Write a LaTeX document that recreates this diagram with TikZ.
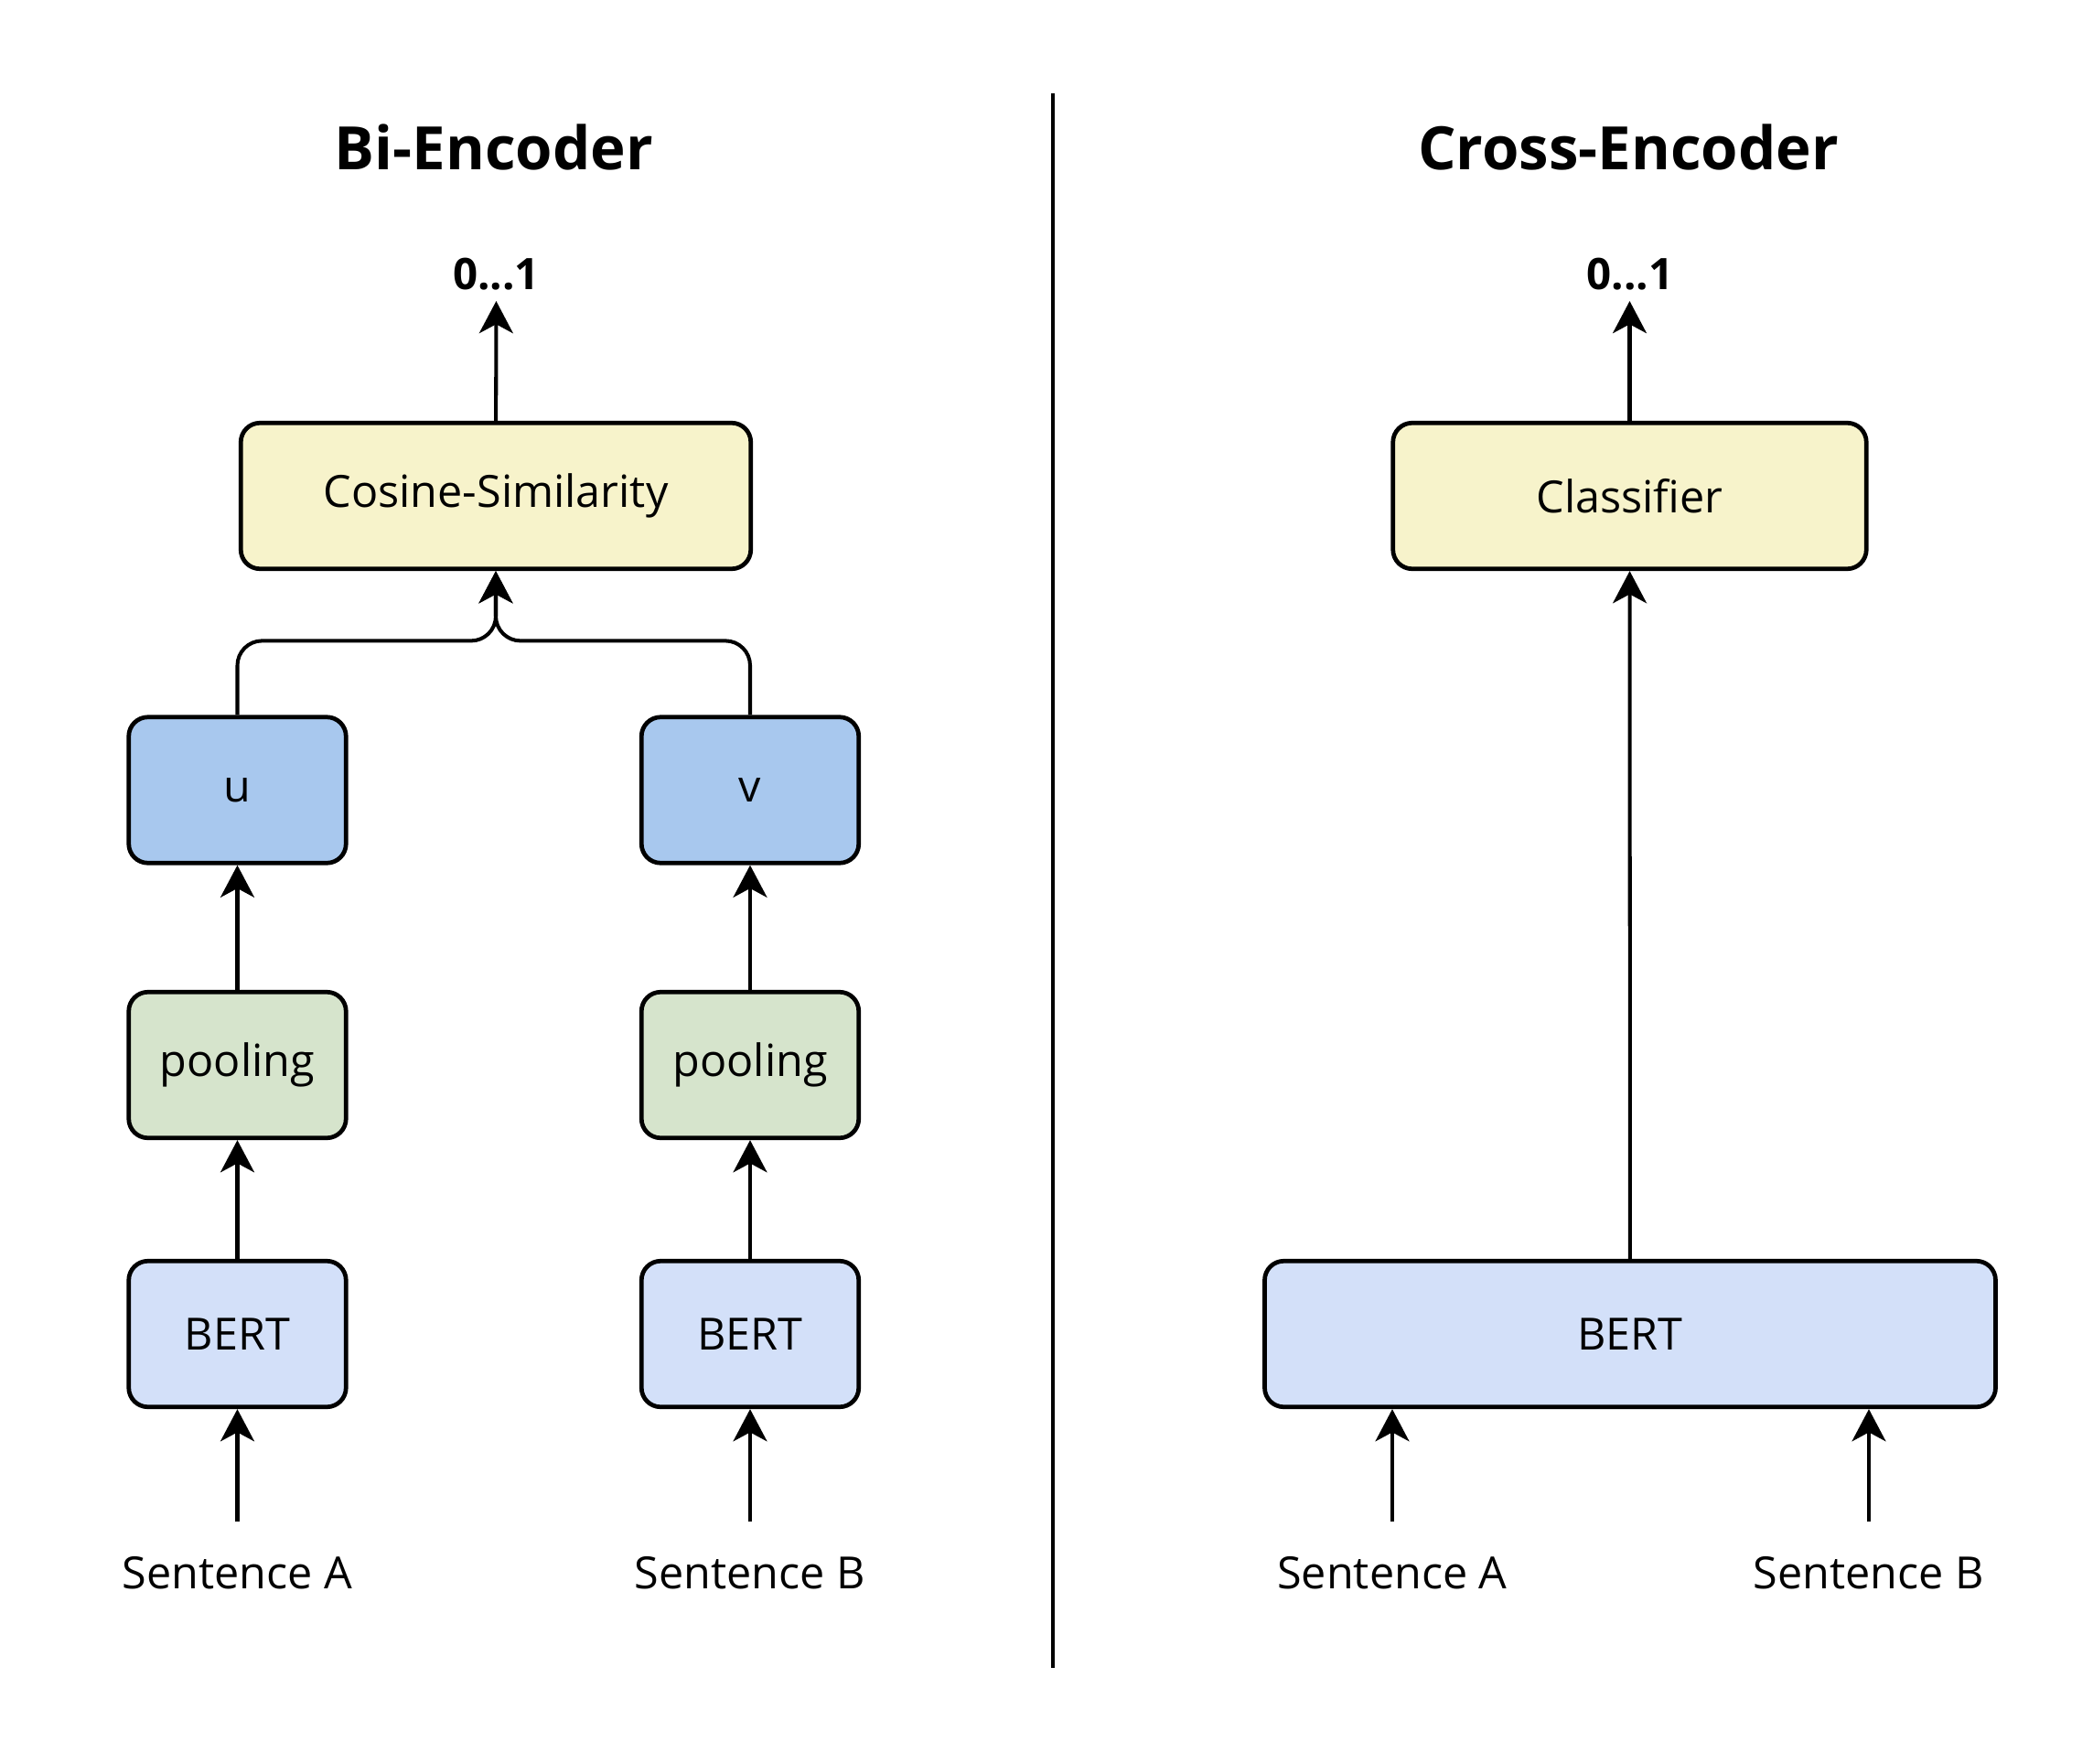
\documentclass[tikz,border=0pt]{standalone}
\usepackage{fontspec}
\setmainfont{Open Sans}
\usetikzlibrary{arrows.meta}
\definecolor{simyellow}{HTML}{F7F3CB}
\definecolor{vecblue}{HTML}{A8C8EE}
\definecolor{bertblue}{HTML}{D3E0F9}
\definecolor{poolgreen}{HTML}{D6E4CC}
\begin{document}
\begin{tikzpicture}[
  box/.style={draw, line width=1.35pt, rounded corners=0.21cm, minimum height=1.595cm, font=\fontsize{13.8}{16}\selectfont},
  arr/.style={-{Stealth[length=10pt,width=10.5pt,inset=2.8pt]}, line width=1.15pt},
  feed/.style={arr, shorten <=0.25cm},
  title/.style={font=\fontsize{18.6}{22}\selectfont\bfseries, anchor=base},
  lbl/.style={font=\fontsize{13.8}{16}\selectfont, anchor=base},
  score/.style={font=\fontsize{13.5}{16}\selectfont\bfseries, anchor=base},
]
\useasboundingbox (0,0) rectangle (22.88,-19.28);
% タイトル
\node[title] (tBi) at (5.40,-1.85) {Bi-Encoder};
\node[title] (tCross) at (17.80,-1.85) {Cross-Encoder};
% 区切り線
\draw[line width=1.2pt] (11.51,-1.02) -- (11.51,-18.23);
% Bi-Encoder
\node[box, fill=simyellow, minimum width=5.575cm] (cos) at (5.42,-5.42) {Cosine-Similarity};
\node[score] (outBi) at (5.425,-3.16) {0...1};
\node[box, fill=vecblue, minimum width=2.375cm] (u) at (2.595,-8.635) {u};
\node[box, fill=vecblue, minimum width=2.375cm] (v) at (8.20,-8.635) {v};
\node[box, fill=poolgreen, minimum width=2.375cm] (poolA) at (2.595,-11.64) {pooling};
\node[box, fill=poolgreen, minimum width=2.375cm] (poolB) at (8.20,-11.64) {pooling};
\node[box, fill=bertblue, minimum width=2.375cm] (bertA) at (2.595,-14.58) {BERT};
\node[box, fill=bertblue, minimum width=2.375cm] (bertB) at (8.20,-14.58) {BERT};
\node[lbl] (sentA) at (2.595,-17.36) {Sentence A};
\node[lbl] (sentB) at (8.20,-17.36) {Sentence B};
\draw[feed] (sentA.north) -- (bertA.south);
\draw[feed] (sentB.north) -- (bertB.south);
\draw[arr] (bertA) -- (poolA);
\draw[arr] (bertB) -- (poolB);
\draw[arr] (poolA) -- (u);
\draw[arr] (poolB) -- (v);
\draw[arr, rounded corners=0.27cm] (u.north) -- ++(0,0.81) -| (cos.south);
\draw[arr, rounded corners=0.27cm] (v.north) -- ++(0,0.81) -| (cos.south);
\draw[arr] (cos) -- (outBi);
% Cross-Encoder
\node[box, fill=simyellow, minimum width=5.175cm] (cls) at (17.815,-5.42) {Classifier};
\node[score] (outCross) at (17.82,-3.16) {0...1};
\node[box, fill=bertblue, minimum width=7.99cm] (bertX) at (17.82,-14.58) {BERT};
\node[lbl] (sentXA) at (15.22,-17.36) {Sentence A};
\node[lbl] (sentXB) at (20.43,-17.36) {Sentence B};
\draw[feed] (sentXA.north) -- (sentXA.north |- bertX.south);
\draw[feed] (sentXB.north) -- (sentXB.north |- bertX.south);
\draw[arr] (bertX) -- (cls);
\draw[arr] (cls.north) -- (cls.north |- outCross.south);
\end{tikzpicture}
\end{document}
